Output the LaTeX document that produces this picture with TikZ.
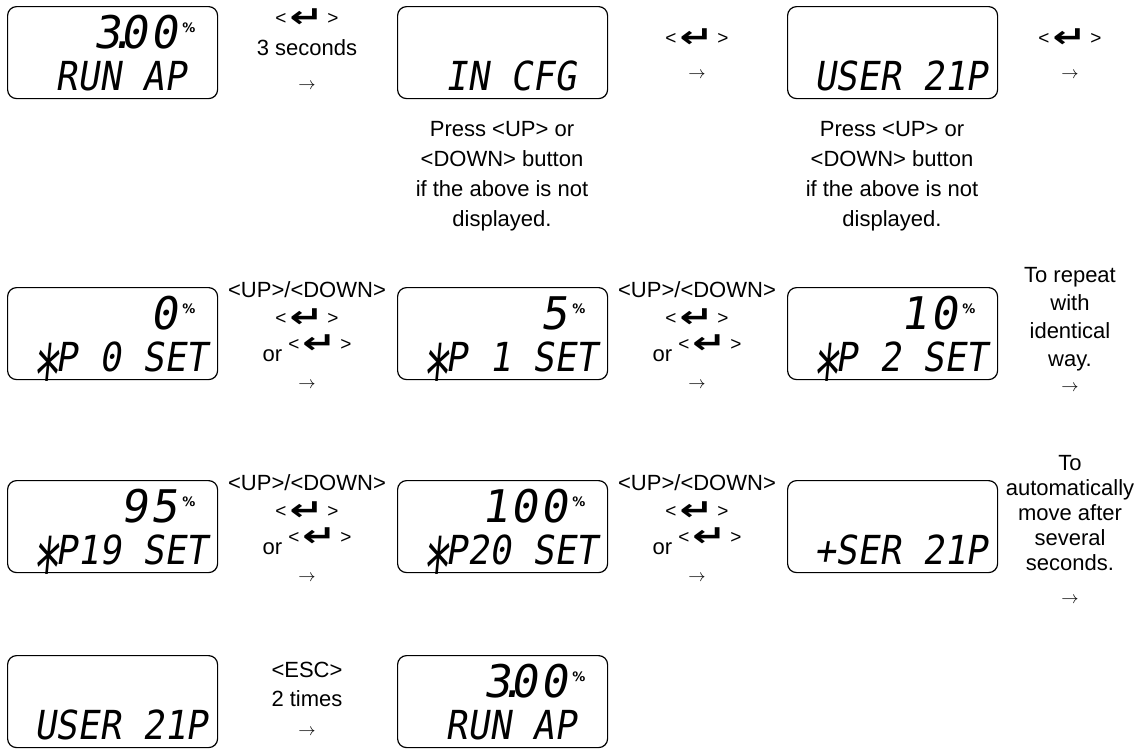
\documentclass[tikz,border=0pt]{standalone}
\usepackage{fontspec}
\usepackage{graphicx}
\setmainfont{Liberation Sans}
\newfontfamily\lcdfont[FakeSlant=0.16,FakeStretch=0.9]{DejaVu Sans Mono}
\newfontfamily\lcdbigfont[FakeSlant=0.16,LetterSpace=6]{DejaVu Sans Mono}
\newfontfamily\symfont{DejaVu Sans}
\usetikzlibrary{calc}
\newsavebox\lcdcell
\newcommand\entkey{{\fontsize{19}{19}\selectfont<}\kern3pt\raisebox{-3pt}{\symfont\bfseries\fontsize{30}{30}\selectfont\scalebox{1.35}[1]{↵}}\kern4pt{\fontsize{19}{19}\selectfont>}}
\newcommand\lcdsp{\phantom{0}}
\newcommand\lcdstar{\sbox\lcdcell{0}\makebox[\wd\lcdcell][c]{\raisebox{-0.85em}{\scalebox{1.3}[2.1]{*}}}}
\tikzset{
  lcdframe/.style={draw, line width=1.2pt, rounded corners=9pt, minimum width=210pt, minimum height=92pt, anchor=north west, inner sep=0pt},
  lbl/.style={font=\fontsize{22}{30}\selectfont, inner sep=0pt, align=center},
  arr/.style={font=\fontsize{19}{19}\selectfont, inner sep=0pt},
  lcdtxt/.style={font=\lcdfont\fontsize{40}{40}\selectfont, inner sep=0pt, anchor=base west},
  lcdnum/.style={font=\lcdbigfont\fontsize{45}{45}\selectfont, inner sep=0pt, anchor=base east},
  pct/.style={font=\symfont\bfseries\fontsize{13}{13}\selectfont, inner sep=0pt},
}
\newcommand\mkdisp[4]{%
  \node[lcdframe] (#1) at (#2,#3) {};
  \node[lcdtxt] (#1-bot) at (#2+27,#3+84) {#4};}
\newcommand\mktop[4]{%
  \node[lcdnum] (#1-top) at (#2+171,#3+42) {#4};
  \node[pct] (#1-pct) at (#2+182,#3+22) {\%};}
\begin{document}
\begin{tikzpicture}[x=1pt,y=-1pt]
\useasboundingbox (0,0) rectangle (1136,748);
% ---------- row 1
\mkdisp{a1}{7}{6}{\lcdsp RUN\lcdsp AP}
\mktop{a1}{7}{6}{3\makebox[0pt]{\kern3pt.}00}
\mkdisp{a2}{397}{6}{\lcdsp IN\lcdsp CFG}
\mkdisp{a3}{787}{6}{USER\lcdsp 21P}
\node[lbl] (a12k) at (307,18) {\entkey};
\node[lbl,anchor=base] (a12s) at (307,55) {3 seconds};
\node[arr] (a12a) at (307,86) {$\rightarrow$};
\node[lbl] (a23k) at (697,38) {\entkey};
\node[arr] (a23a) at (697,75) {$\rightarrow$};
\node[lbl] (a3xk) at (1070,38) {\entkey};
\node[arr] (a3xa) at (1070,75) {$\rightarrow$};
\node[lbl,anchor=north] (a2n) at (502,121) {Press <UP> or\\<DOWN> button\\if the above is not\\displayed.};
\node[lbl,anchor=north] (a3n) at (892,121) {Press <UP> or\\<DOWN> button\\if the above is not\\displayed.};
% ---------- row 2
\mkdisp{b1}{7}{287}{\lcdstar P\lcdsp 0\lcdsp SET}
\mktop{b1}{7}{287}{0}
\mkdisp{b2}{397}{287}{\lcdstar P\lcdsp 1\lcdsp SET}
\mktop{b2}{397}{287}{5}
\mkdisp{b3}{787}{287}{\lcdstar P\lcdsp 2\lcdsp SET}
\mktop{b3}{787}{287}{10}
\node[lbl,anchor=base] (b12u) at (307,297) {<UP>/<DOWN>};
\node[lbl] (b12k) at (307,318) {\entkey};
\node[lbl,anchor=base] (b12o) at (307,361) {or \raisebox{11pt}{\entkey}};
\node[arr] (b12a) at (307,385) {$\rightarrow$};
\node[lbl,anchor=base] (b23u) at (697,297) {<UP>/<DOWN>};
\node[lbl] (b23k) at (697,318) {\entkey};
\node[lbl,anchor=base] (b23o) at (697,361) {or \raisebox{11pt}{\entkey}};
\node[arr] (b23a) at (697,385) {$\rightarrow$};
\node[lbl,anchor=north,font=\fontsize{22}{28}\selectfont] (b3n) at (1070,267) {To repeat\\with\\identical\\way.};
\node[arr] (b3a) at (1070,388) {$\rightarrow$};
% ---------- row 3
\mkdisp{c1}{7}{480}{\lcdstar P19\lcdsp SET}
\mktop{c1}{7}{480}{95}
\mkdisp{c2}{397}{480}{\lcdstar P20\lcdsp SET}
\mktop{c2}{397}{480}{100}
\mkdisp{c3}{787}{480}{+SER\lcdsp 21P}
\node[lbl,anchor=base] (c12u) at (307,490) {<UP>/<DOWN>};
\node[lbl] (c12k) at (307,511) {\entkey};
\node[lbl,anchor=base] (c12o) at (307,554) {or \raisebox{11pt}{\entkey}};
\node[arr] (c12a) at (307,578) {$\rightarrow$};
\node[lbl,anchor=base] (c23u) at (697,490) {<UP>/<DOWN>};
\node[lbl] (c23k) at (697,511) {\entkey};
\node[lbl,anchor=base] (c23o) at (697,554) {or \raisebox{11pt}{\entkey}};
\node[arr] (c23a) at (697,578) {$\rightarrow$};
\node[lbl,anchor=north,font=\fontsize{22}{25}\selectfont] (c3n) at (1070,455) {To\\automatically\\move after\\several\\seconds.};
\node[arr] (c3a) at (1070,600) {$\rightarrow$};
% ---------- row 4
\mkdisp{d1}{7}{655}{USER\lcdsp 21P}
\mkdisp{d2}{397}{655}{\lcdsp RUN\lcdsp AP}
\mktop{d2}{397}{655}{3\makebox[0pt]{\kern3pt.}00}
\node[lbl,anchor=base] (d12e) at (307,677) {<ESC>};
\node[lbl,anchor=base] (d12t) at (307,706) {2 times};
\node[arr] (d12a) at (307,732) {$\rightarrow$};
\end{tikzpicture}
\end{document}
